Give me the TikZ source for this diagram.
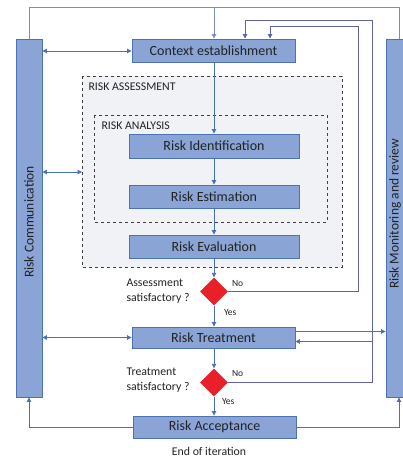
\documentclass[tikz,border=0pt]{standalone}
\usepackage{fontspec}
\setmainfont{Carlito}
\usetikzlibrary{shapes.geometric,arrows.meta}
\definecolor{boxfill}{HTML}{8AA5D5}
\definecolor{boxdraw}{HTML}{4C72B0}
\definecolor{arrowc}{HTML}{4A70BA}
\definecolor{fbc}{HTML}{5E64A0}
\definecolor{topc}{HTML}{7C8CC0}
\definecolor{assfill}{HTML}{F1F2F6}
\definecolor{txt}{HTML}{222222}
\definecolor{dred}{HTML}{E8202A}
\tikzset{
  procbox/.style={draw=boxdraw, line width=0.9pt, fill=boxfill, inner sep=0pt, text=txt, font=\fontsize{14}{16}\selectfont},
  sidebar/.style={draw=boxdraw, line width=0.9pt, fill=boxfill, inner sep=0pt, minimum width=26pt, minimum height=358pt},
  bartext/.style={rotate=90, text=txt, font=\fontsize{13.5}{15}\selectfont},
  decide/.style={diamond, fill=dred, draw=none, minimum width=28pt, minimum height=28pt, inner sep=0pt},
  grpbox/.style={draw=black!75, dashed, line width=0.8pt},
  conn/.style={draw=arrowc, line width=0.9pt, -{Triangle[width=4.5pt,length=4.5pt]}},
  biconn/.style={draw=arrowc, line width=0.9pt, {Triangle[width=4.5pt,length=4.5pt]}-{Triangle[width=4.5pt,length=4.5pt]}},
  fb/.style={draw=fbc, line width=1pt},
  small/.style={text=txt, font=\fontsize{11.8}{15}\selectfont},
  tiny/.style={text=txt, font=\fontsize{9.5}{11}\selectfont},
}
\begin{document}
\begin{tikzpicture}[x=1pt,y=-1pt]
\useasboundingbox (0,0) rectangle (402,457);
% group boxes
\draw[grpbox, fill=assfill] (82,76) rectangle (342,267);
\node[small, anchor=west] (lassess) at (85,86.5) {RISK ASSESSMENT};
\draw[grpbox] (94,115) rectangle (327,222);
\node[small, anchor=west] (lanalysis) at (98,125.5) {RISK ANALYSIS};
% side bars
\node[sidebar] (comm) at (29,218) {};
\node[bartext] (commt) at (29,222) {Risk Communication};
\node[sidebar] (mon) at (399,218) {};
\node[bartext] (mont) at (395,214) {Risk Monitoring and review};
% process boxes
\node[procbox, minimum width=163pt, minimum height=23pt] (ctx) at (213.5,50.5) {Context establishment};
\node[procbox, minimum width=170pt, minimum height=24pt] (ident) at (214,146) {Risk Identification};
\node[procbox, minimum width=170pt, minimum height=23pt] (estim) at (214,196.5) {Risk Estimation};
\node[procbox, minimum width=170pt, minimum height=23pt] (evalu) at (214,246.5) {Risk Evaluation};
\node[decide] (d1) at (214,291.5) {};
\node[procbox, minimum width=163pt, minimum height=21pt] (treat) at (213.5,337.5) {Risk Treatment};
\node[decide] (d2) at (214,382.5) {};
\node[procbox, minimum width=163pt, minimum height=22pt] (accept) at (214.5,427) {Risk Acceptance};
\node[small] (endit) at (209,451) {End of iteration};
% decision labels
\node[small, anchor=west, align=left] (q1) at (123,291.5) {Assessment\\satisfactory ?};
\node[small, anchor=west, align=left] (q2) at (123,380.5) {Treatment\\satisfactory ?};
\node[tiny, anchor=west] (no1) at (228.5,283) {No};
\node[tiny, anchor=west] (yes1) at (220.5,312) {Yes};
\node[tiny, anchor=west] (no2) at (228.5,373.5) {No};
\node[tiny, anchor=west] (yes2) at (218.5,401) {Yes};
% coordinates
\coordinate (tl) at (29,8);
\coordinate (tr) at (399,8);
\coordinate (tm) at (214,8);
% top loop
\draw[draw=topc, line width=1pt] (comm.north) -- (tl) -- (tr) -- (mon.north);
\draw[conn, draw=topc] (tm) -- (ctx.north -| tm);
% main flow
\draw[conn] (ctx.south -| ident.north) -- (ident.north);
\draw[conn] (ident) -- (estim);
\draw[conn] (estim) -- (evalu);
\draw[conn] (evalu) -- (d1);
\draw[conn] (d1) -- (treat.north -| d1);
\draw[conn] (treat.south -| d2) -- (d2);
\draw[conn] (d2) -- (accept.north -| d2);
% feedback loops
\draw[fb] (d1.east) -- (358,291.5) -- (358,27) -- (270,27);
\draw[conn, draw=fbc, line width=1pt] (270,27) -- (ctx.north -| 270,0);
\draw[fb] (d2.east) -- (372,382.5) -- (372,21) -- (245,21);
\draw[conn, draw=fbc, line width=1pt] (245,21) -- (ctx.north -| 245,0);
\draw[conn] (372,341.5) -- (treat.east |- 0,341.5);
\draw[conn] (treat.east |- 0,331.5) -- (mon.west |- 0,331.5);
% communication links
\draw[biconn] (comm.east |- 0,51) -- (ctx.west |- 0,51);
\draw[biconn] (comm.east |- 0,172) -- (82,172);
\draw[biconn] (comm.east |- 0,337.5) -- (treat.west);
% acceptance returns
\draw[conn] (accept.west) -- (29,427) -- (comm.south);
\draw[conn] (accept.east) -- (399,427) -- (mon.south);
\end{tikzpicture}
\end{document}
